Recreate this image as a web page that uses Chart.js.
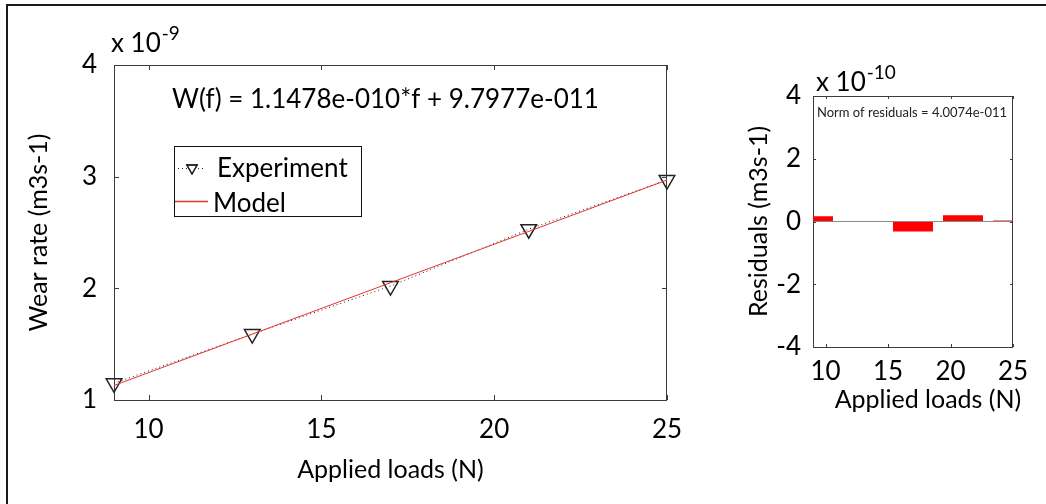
<!DOCTYPE html>
<html>
<head>
<meta charset="utf-8">
<script src="https://cdn.jsdelivr.net/npm/chart.js@4.4.1/dist/chart.umd.min.js"></script>
<style>
    html, body { margin: 0; padding: 0; background: #fff; }
    body { width: 1046px; height: 504px; position: relative; overflow: hidden; }
    #frame { position: absolute; left: 6px; top: 4px; width: 1100px; height: 600px; border-left: 2px solid #1a1a1a; border-top: 2px solid #1a1a1a; }
    #fitChart { position: absolute; left: 0; top: 0; }
    #residChart { position: absolute; left: 700px; top: 0; }
</style>
</head>
<body>
<div id="frame"></div>
<canvas id="fitChart" width="700" height="504"></canvas>
<canvas id="residChart" width="346" height="504"></canvas>
<script>
// data
const loads = [9, 13, 17, 21, 25];                  // N
const wearExperiment = [1.15, 1.59, 2.02, 2.53, 2.97]; // x 10^-9 m3s-1
const modelLoads = [9, 25];
const wearModel = [1.13, 2.97];                     // x 10^-9 m3s-1
const residuals = [0.17, 0, -0.32, 0.20, 0.03];     // x 10^-10 m3s-1
const loadTicks = [10, 15, 20, 25];
const wearTicks = [1, 2, 3, 4];
const residTicks = [-4, -2, 0, 2, 4];
const equationText = 'W(f) = 1.1478e-010*f + 9.7977e-011';
const normText = 'Norm of residuals = 4.0074e-011';
const loadTitle = 'Applied loads (N)';

Chart.defaults.font.family = 'Lato, "Open Sans", sans-serif';
Chart.defaults.color = '#000';

const AXIS = '#3c3c3c';

// matlab style box with ticks pointing inward
const boxTicks = {
    id: 'boxTicks',
    beforeDatasetsDraw(chart, args, opts) {
        const { ctx, chartArea: a, scales: { x, y } } = chart;
        const len = opts.len || 5;
        ctx.save();
        ctx.strokeStyle = AXIS;
        ctx.lineWidth = 1;
        ctx.beginPath();
        x.ticks.forEach(t => {
            const px = Math.round(x.getPixelForValue(t.value)) + 0.5;
            ctx.moveTo(px, a.top); ctx.lineTo(px, a.top + len);
            ctx.moveTo(px, a.bottom); ctx.lineTo(px, a.bottom - len);
        });
        y.ticks.forEach(t => {
            const py = Math.round(y.getPixelForValue(t.value)) + 0.5;
            ctx.moveTo(a.left, py); ctx.lineTo(a.left + len, py);
            ctx.moveTo(a.right, py); ctx.lineTo(a.right - len, py);
        });
        ctx.stroke();
        ctx.strokeRect(Math.round(a.left) + 0.5, Math.round(a.top) + 0.5, Math.round(a.width) - 1, Math.round(a.height));
        ctx.restore();
    }
};

function drawExponent(ctx, x, y, base, exp, size, supSize) {
    ctx.save();
    ctx.fillStyle = '#000';
    ctx.textBaseline = 'alphabetic';
    ctx.textAlign = 'left';
    ctx.font = size + 'px Lato';
    ctx.fillText(base, x, y);
    const w = ctx.measureText(base).width;
    ctx.font = supSize + 'px Lato';
    ctx.fillText(exp, x + w + 1, y - 12);
    ctx.restore();
}

const fitNotes = {
    id: 'fitNotes',
    afterDraw(chart) {
        const { ctx } = chart;
        drawExponent(ctx, 111, 52, 'x 10', '-9', 26, 19);

        ctx.save();
        ctx.fillStyle = '#000';
        ctx.font = '26px Lato';
        ctx.textBaseline = 'alphabetic';
        ctx.fillText(equationText, 172, 108);

        // legend box
        ctx.fillStyle = '#fff';
        ctx.fillRect(174, 146, 187, 70);
        ctx.strokeStyle = '#111';
        ctx.lineWidth = 1;
        ctx.strokeRect(174.5, 146.5, 187, 70);

        const exp = chart.data.datasets[1];
        const mod = chart.data.datasets[0];
        // experiment sample
        ctx.strokeStyle = exp.borderColor;
        ctx.setLineDash(exp.borderDash);
        ctx.beginPath();
        ctx.moveTo(178, 168.5); ctx.lineTo(205, 168.5);
        ctx.stroke();
        ctx.setLineDash([]);
        ctx.lineWidth = 1.3;
        Chart.helpers.drawPoint(ctx, { pointStyle: 'triangle', rotation: 180, radius: 6, borderWidth: 1.3 }, 192, 168);
        ctx.stroke();
        // model sample
        ctx.strokeStyle = mod.borderColor;
        ctx.lineWidth = 1.5;
        ctx.beginPath();
        ctx.moveTo(175, 201.5); ctx.lineTo(208, 201.5);
        ctx.stroke();

        ctx.fillStyle = '#000';
        ctx.font = '26px Lato';
        ctx.fillText(exp.label, 217, 177);
        ctx.fillText(mod.label, 213, 212);
        ctx.restore();
    }
};

new Chart(document.getElementById('fitChart'), {
    type: 'line',
    data: {
        datasets: [{
            label: 'Model',
            data: modelLoads.map((x, i) => ({ x, y: wearModel[i] })),
            borderColor: '#e8332f',
            borderWidth: 1,
            pointRadius: 0,
            clip: false
        }, {
            label: 'Experiment',
            data: loads.map((x, i) => ({ x, y: wearExperiment[i] })),
            borderColor: '#222',
            borderWidth: 1,
            borderDash: [1, 3],
            pointStyle: 'triangle',
            rotation: 180,
            pointRadius: 9,
            pointBorderWidth: 1.5,
            pointBorderColor: '#222',
            pointBackgroundColor: 'rgba(255,255,255,0)',
            clip: false
        }]
    },
    options: {
        responsive: false,
        animation: false,
        devicePixelRatio: 1,
        layout: { padding: { left: 0, top: 65, right: 33, bottom: 0 } },
        plugins: { legend: { display: false }, tooltip: { enabled: false }, boxTicks: { len: 5 } },
        scales: {
            x: {
                type: 'linear', min: 9, max: 25,
                afterBuildTicks: s => { s.ticks = loadTicks.map(v => ({ value: v })); },
                afterFit: s => { s.height = 104; },
                grid: { display: false }, border: { display: false },
                ticks: { font: { size: 26 }, padding: 6, maxRotation: 0, autoSkip: false },
                title: { display: true, text: loadTitle, font: { size: 25 }, padding: { top: 0, bottom: 19 } }
            },
            y: {
                min: 1, max: 4,
                afterBuildTicks: s => { s.ticks = wearTicks.map(v => ({ value: v })); },
                afterFit: s => { s.width = 114; },
                grid: { display: false }, border: { display: false },
                ticks: { font: { size: 26 }, padding: 9 },
                title: { display: true, text: 'Wear rate (m3s-1)', font: { size: 25 }, padding: { top: 24, bottom: 0 } }
            }
        }
    },
    plugins: [boxTicks, fitNotes]
});

const residNotes = {
    id: 'residNotes',
    afterDraw(chart) {
        const { ctx } = chart;
        drawExponent(ctx, 116, 91, 'x 10', '-10', 26, 19);
        ctx.save();
        ctx.fillStyle = '#222';
        ctx.font = '13px Lato';
        ctx.fillText(normText, 117, 117);
        // x axis title sits a little right of centre in the original
        ctx.fillStyle = '#000';
        ctx.font = '25px Lato';
        ctx.textAlign = 'center';
        ctx.fillText(loadTitle, 228, 408);
        ctx.restore();
    }
};

new Chart(document.getElementById('residChart'), {
    type: 'bar',
    data: {
        datasets: [{
            label: 'Residuals',
            data: loads.map((x, i) => ({ x, y: residuals[i] })),
            backgroundColor: '#ff0000',
            borderWidth: 0,
            barPercentage: 1,
            categoryPercentage: 0.8,
            clip: 0
        }]
    },
    options: {
        responsive: false,
        animation: false,
        devicePixelRatio: 1,
        layout: { padding: { left: 0, top: 96, right: 33, bottom: 0 } },
        plugins: { legend: { display: false }, tooltip: { enabled: false }, boxTicks: { len: 3 } },
        scales: {
            x: {
                type: 'linear', min: 9, max: 25, offset: false,
                afterBuildTicks: s => { s.ticks = loadTicks.map(v => ({ value: v })); },
                afterFit: s => { s.height = 157; },
                grid: { display: false }, border: { display: false },
                ticks: { font: { size: 26 }, padding: 1, maxRotation: 0, autoSkip: false }
            },
            y: {
                min: -4, max: 4,
                afterBuildTicks: s => { s.ticks = residTicks.map(v => ({ value: v })); },
                afterFit: s => { s.width = 113; },
                grid: {
                    drawTicks: false,
                    color: c => (c.tick && c.tick.value === 0 ? '#8a8a8a' : 'rgba(0,0,0,0)')
                },
                border: { display: false },
                ticks: { font: { size: 26 }, padding: 12 },
                title: { display: true, text: 'Residuals (m3s-1)', font: { size: 25 }, padding: { top: 44, bottom: 0 } }
            }
        }
    },
    plugins: [boxTicks, residNotes]
});
</script>
</body>
</html>
